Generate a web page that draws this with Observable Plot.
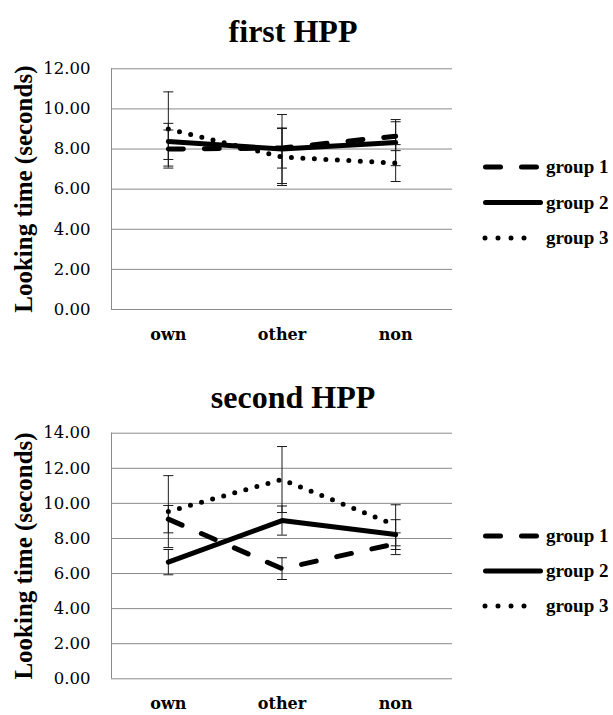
<!DOCTYPE html>
<html>
<head>
<meta charset="utf-8">
<script src="https://cdn.jsdelivr.net/npm/d3@7"></script>
<script src="https://cdn.jsdelivr.net/npm/@observablehq/plot@0.6"></script>
<style>
  body { margin: 0; background: #fff; }
  #root { position: relative; width: 613px; height: 715px; overflow: hidden; background: #fff; }
  .title { position: absolute; left: 0; width: 586px; text-align: center;
           font: bold 32px "Liberation Serif", "Times New Roman", serif; line-height: 32px; color: #000; }
  .chart { position: absolute; left: 0; }
  .legend { position: absolute; left: 470px; }
</style>
</head>
<body>
<div id="root"></div>
<script>
// ---- data ----
const categories = ["own", "other", "non"];
const groups = ["group 1", "group 2", "group 3"];

// first HPP
const first_group1 = [8.0, 8.05, 8.64];
const first_group2 = [8.38, 8.0, 8.32];
const first_group3 = [9.0, 7.6, 7.3];
const first_err1 = [0.95, 1.0, 0.72];
const first_err2 = [0.9, 1.72, 1.15];
const first_err3 = [1.85, 1.42, 0.92];
const first_ticks = [0, 2, 4, 6, 8, 10, 12];

// second HPP
const second_group1 = [9.1, 6.28, 7.7];
const second_group2 = [6.65, 9.02, 8.22];
const second_group3 = [9.53, 11.36, 8.75];
const second_err1 = [0.78, 0.62, 0.62];
const second_err2 = [0.72, 0.83, 0.85];
const second_err3 = [2.05, 1.88, 1.17];
const second_ticks = [0, 2, 4, 6, 8, 10, 12, 14];

// ---- styles ----
const lineStyles = {
  "group 1": {plot: "15,21", legend: "15,21"},
  "group 2": {plot: null, legend: null},
  "group 3": {plot: "0,11.5", legend: "0,13"}
};
const gridColor = "#8a8a8a";
const errColor = "#1a1a1a";

const capSymbol = {
  draw(context, size) {
    const r = Math.sqrt(size / Math.PI);
    context.moveTo(-r, 0);
    context.lineTo(r, 0);
  }
};

function rowsFor(series, errs) {
  const rows = [];
  series.forEach((vals, g) => {
    vals.forEach((v, i) => rows.push({i, cat: categories[i], group: groups[g], v, e: errs[g][i]}));
  });
  return rows;
}

function makeChart(series, errs, ticks, opts) {
  const rows = rowsFor(series, errs);
  const yMax = ticks[ticks.length - 1];
  const marks = [
    Plot.ruleY(ticks, {stroke: gridColor, strokeWidth: 1}),
    Plot.ruleX([-0.5], {stroke: gridColor, strokeWidth: 1}),
    Plot.ruleX(rows, {x: "i", y1: d => d.v - d.e, y2: d => d.v + d.e, stroke: errColor, strokeWidth: 1})
  ];
  for (const g of groups) {
    marks.push(Plot.line(rows.filter(d => d.group === g), {
      x: "i", y: "v", stroke: "#000", strokeWidth: 5,
      strokeLinecap: "round", strokeLinejoin: "round",
      strokeDasharray: lineStyles[g].plot
    }));
  }
  marks.push(
    Plot.dot(rows, {x: "i", y: d => d.v + d.e, symbol: capSymbol, r: 5, stroke: errColor, strokeWidth: 1, fill: "none"}),
    Plot.dot(rows, {x: "i", y: d => d.v - d.e, symbol: capSymbol, r: 5, stroke: errColor, strokeWidth: 1, fill: "none"}),
    Plot.axisY(ticks, {anchor: "left", tickSize: 0, tickPadding: 21, tickFormat: d => d.toFixed(2),
      fontSize: 16.5, fontFamily: "DejaVu Serif", fill: "#000", label: null}),
    Plot.axisX([0, 1, 2], {anchor: "bottom", tickSize: 0, tickPadding: 19, tickFormat: i => categories[i],
      fontSize: 16, fontFamily: "DejaVu Serif", fontWeight: "bold", fill: "#000", label: null}),
    Plot.text(["Looking time (seconds)"], {frameAnchor: "left", rotate: -90, dx: -88,
      fontSize: 25, fontFamily: "Liberation Serif", fontWeight: "bold", fill: "#000",
      textAnchor: "middle", lineAnchor: "middle"})
  );
  return Plot.plot({
    width: 613,
    height: opts.height,
    marginTop: opts.marginTop,
    marginBottom: opts.marginBottom,
    marginLeft: 111,
    marginRight: 161,
    x: {type: "linear", domain: [-0.5, 2.5]},
    y: {type: "linear", domain: [0, yMax]},
    style: {background: "#fff", color: "#000", fontFamily: "DejaVu Serif", overflow: "visible"},
    marks
  });
}

function makeLegend(top, spacing) {
  const svg = d3.create("svg").attr("width", 143).attr("height", 110).attr("class", "legend")
    .style("top", top + "px");
  groups.forEach((g, k) => {
    const y = 17 + k * spacing;
    const dash = lineStyles[g].legend;
    const x1 = g === "group 3" ? 15 : 15.5;
    const x2 = g === "group 3" ? 67 : (g === "group 1" ? 71 : 70.5);
    svg.append("line").attr("x1", x1).attr("x2", x2).attr("y1", y).attr("y2", y)
      .attr("stroke", "#000").attr("stroke-width", 5).attr("stroke-linecap", "round")
      .attr("stroke-dasharray", dash);
    svg.append("text").attr("x", 76).attr("y", y + 6)
      .attr("font-family", "Liberation Serif, Times New Roman, serif").attr("font-weight", "bold")
      .attr("font-size", 19).attr("fill", "#000").text(g);
  });
  return svg.node();
}

const root = document.getElementById("root");

const t1 = document.createElement("div");
t1.className = "title"; t1.style.top = "15px"; t1.textContent = "first HPP";
root.appendChild(t1);

const c1 = makeChart([first_group1, first_group2, first_group3], [first_err1, first_err2, first_err3],
  first_ticks, {height: 310, marginTop: 23.3, marginBottom: 46});
c1.classList.add("chart"); c1.style.position = "absolute"; c1.style.top = "45px"; c1.style.left = "0px";
root.appendChild(c1);
root.appendChild(makeLegend(150, 35.5));

const t2 = document.createElement("div");
t2.className = "title"; t2.style.top = "381px"; t2.textContent = "second HPP";
root.appendChild(t2);

const c2 = makeChart([second_group1, second_group2, second_group3], [second_err1, second_err2, second_err3],
  second_ticks, {height: 300, marginTop: 17.7, marginBottom: 36.7});
c2.classList.add("chart"); c2.style.position = "absolute"; c2.style.top = "415px"; c2.style.left = "0px";
root.appendChild(c2);
root.appendChild(makeLegend(519, 35));
</script>
</body>
</html>
